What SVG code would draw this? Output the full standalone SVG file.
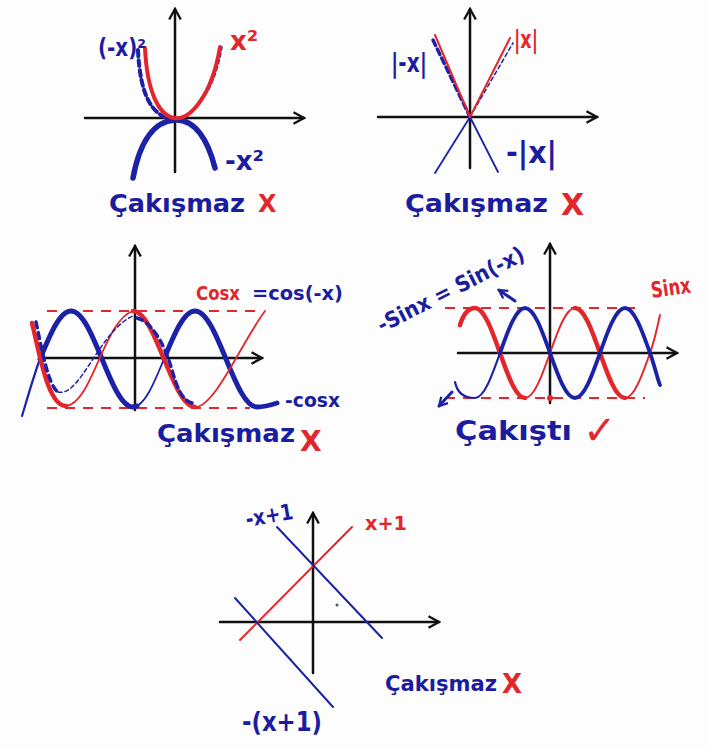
<svg xmlns="http://www.w3.org/2000/svg" width="710" height="749" viewBox="0 0 710 749">
<defs>
<style>
.ax{fill:none;stroke:#111;stroke-width:2.5;stroke-linecap:round;marker-end:url(#ah)}
.b{fill:none;stroke:#1c22a8;stroke-linecap:round;stroke-linejoin:round}
.r{fill:none;stroke:#e3262b;stroke-linecap:round;stroke-linejoin:round}
.rd{fill:none;stroke:#e3262b;stroke-width:2;stroke-dasharray:10 8}
.tb{font-family:"DejaVu Sans","Liberation Sans",sans-serif;font-weight:bold;fill:#1c1ca0}
.tr{font-family:"DejaVu Sans","Liberation Sans",sans-serif;font-weight:bold;fill:#e3262b}
</style>
<marker id="ah" viewBox="0 0 12 12" refX="10" refY="6" markerWidth="14" markerHeight="14" markerUnits="userSpaceOnUse" orient="auto">
<path d="M1,1 L10,6 L1,11" fill="none" stroke="#111" stroke-width="2"/>
</marker>
<marker id="bh" viewBox="0 0 12 12" refX="10" refY="6" markerWidth="11" markerHeight="11" markerUnits="userSpaceOnUse" orient="auto">
<path d="M1,1 L10,6 L1,11" fill="none" stroke="#1c22a8" stroke-width="2.5"/>
</marker>
</defs>
<rect width="710" height="749" fill="#fdfdfd"/>

<g id="panel-square">
<path class="ax" d="M175,172 L175,9"/>
<path class="ax" d="M85,118 L304,118"/>
<path class="b" stroke-width="5.5" d="M133,178 C140,140 155,121 175,120 C195,119 208,140 215,168"/>
<path class="b" stroke-width="4" stroke-dasharray="6 4" d="M138,50 C140,95 152,116 172,119"/>
<path class="b" stroke-width="1.5" stroke-dasharray="4 3" d="M172,119 C192,119 214,95 222,47"/>
<path class="r" stroke-width="4" d="M145,48 C147,90 158,115 174,118 C190,121 212,95 220,47"/>
<text class="tb" x="98" y="56" font-size="24" textLength="48" lengthAdjust="spacingAndGlyphs">(-x)²</text>
<text class="tr" x="230" y="50" font-size="26">x²</text>
<text class="tb" x="225" y="170" font-size="26">-x²</text>
<text class="tb" x="109" y="212" font-size="24" textLength="136" lengthAdjust="spacingAndGlyphs">Çakışmaz</text>
<text class="tr" x="258" y="212" font-size="24" font-weight="normal">X</text>
</g>

<g id="panel-abs">
<path class="ax" d="M470,168 L470,9"/>
<path class="ax" d="M378,117 L597,117"/>
<path class="b" stroke-width="1.8" d="M435,173 L470,117 L498,172"/>
<path class="b" stroke-width="3.5" stroke-dasharray="6 4" d="M433,40 L470,117"/>
<path class="b" stroke-width="1.5" stroke-dasharray="4 3" d="M470,117 L513,43"/>
<path class="r" stroke-width="2" d="M435,35 L470,117 L510,38"/>
<text class="tb" x="391" y="72" font-size="26" textLength="36" lengthAdjust="spacingAndGlyphs">|-x|</text>
<text class="tr" x="514" y="48" font-size="24" textLength="24" lengthAdjust="spacingAndGlyphs">|x|</text>
<text class="tb" x="506" y="163" font-size="30" textLength="51" lengthAdjust="spacingAndGlyphs">-|x|</text>
<text class="tb" x="405" y="212" font-size="24" textLength="143" lengthAdjust="spacingAndGlyphs">Çakışmaz</text>
<text class="tr" x="561" y="215" font-size="30" font-weight="normal">X</text>
</g>

<g id="panel-cos">
<path class="ax" d="M135,410 L135,246"/>
<path class="ax" d="M43,358 L262,358"/>
<path class="rd" d="M47,311 L263,311"/>
<path class="rd" d="M47,408 L250,408"/>
<path class="b" stroke-width="2.2" d="M22,416 C28,396 34,375 40,359"/>
<path class="b" stroke-width="5" d="M40,359 c10.1,-24.6 19.8,-48 31,-48 c11.2,0 20.9,23.4 31,48 c10.1,24.6 19.8,48 31,48 l4,-1"/>
<path class="b" stroke-width="1.8" d="M133,407 c11.2,0 20.9,-23.4 31,-48"/>
<path class="b" stroke-width="5" d="M164,359 c10.1,-24.6 19.8,-48 31,-48 c11.2,0 20.9,23.4 31,48 c10.1,24.6 19.8,48 31,48 c8,0 14,-2 20,-4"/>
<path class="r" stroke-width="4.5" d="M32,323 C40,355 48,406 66,406"/>
<path class="r" stroke-width="1.8" d="M66,406 C92,404 104,320 133,311"/>
<path class="r" stroke-width="4.5" d="M133,311 c11.2,0 20.9,23.4 31,48 c10.1,24.6 19.8,48 31,48"/>
<path class="r" stroke-width="1.8" d="M195,407 C215,407 240,345 265,311"/>
<path class="b" stroke-width="3.5" stroke-dasharray="6 5" d="M36,322 C42,350 48,385 58,392"/>
<path class="b" stroke-width="1.5" stroke-dasharray="4 3" d="M58,392 C80,398 100,330 133,316"/>
<path class="b" stroke-width="3.5" stroke-dasharray="6 5" d="M137,318 C152,322 165,345 172,370 C177,388 182,400 192,403"/>
<text class="tr" x="196" y="300" font-size="20" textLength="44" lengthAdjust="spacingAndGlyphs">Cosx</text>
<text class="tb" x="252" y="300" font-size="20" textLength="91" lengthAdjust="spacingAndGlyphs">=cos(-x)</text>
<text class="tb" x="285" y="407" font-size="20" textLength="55" lengthAdjust="spacingAndGlyphs">-cosx</text>
<text class="tb" x="157" y="442" font-size="24" textLength="138" lengthAdjust="spacingAndGlyphs">Çakışmaz</text>
<text class="tr" x="300" y="451" font-size="28" font-weight="normal">X</text>
</g>

<g id="panel-sin">
<path class="ax" d="M550,403 L550,244"/>
<path class="ax" d="M458,353 L677,353"/>
<path class="rd" d="M445,308 L640,308"/>
<path class="rd" d="M445,398 L645,398"/>
<circle cx="550" cy="398" r="3" fill="#e3262b"/>
<path class="r" stroke-width="4.5" d="M460,325 C464,312 469,308 475,308 c9.05,0 16.85,22 25,45 c8.15,23 16,45 25,45"/>
<path class="r" stroke-width="2" d="M525,398 c9.05,0 16.85,-22 25,-45 c8.15,-23 16,-45 25,-45"/>
<path class="r" stroke-width="4.5" d="M575,308 c9.05,0 16.85,22 25,45 c8.15,23 16,45 25,45"/>
<path class="r" stroke-width="2" d="M625,398 c9.05,0 16.85,-22 25,-45 c6,-17 8,-30 10,-38"/>
<path class="b" stroke-width="2.2" d="M455,382 C457,392 463,398 475,398 c9.05,0 16.85,-22 25,-45"/>
<path class="b" stroke-width="3.8" d="M500,353 c8.15,-23 16,-45 25,-45 c9.05,0 16.85,22 25,45 c8.15,23 16,45 25,45 c9.05,0 16.85,-22 25,-45 c8.15,-23 16,-45 25,-45 c9.05,0 16.85,22 25,45 c5,14 8,28 10,32"/>
<path class="b" stroke-width="3" marker-end="url(#bh)" d="M515,301 L499,290"/>
<path class="b" stroke-width="3" marker-end="url(#bh)" d="M452,392 L439,406"/>
<text class="tb" x="382" y="333" font-size="22" textLength="162" lengthAdjust="spacingAndGlyphs" transform="rotate(-27 382 333)">-Sinx = Sin(-x)</text>
<text class="tr" x="652" y="298" font-size="22" textLength="40" lengthAdjust="spacingAndGlyphs" transform="rotate(-8 652 298)">Sinx</text>
<text class="tb" x="455" y="440" font-size="26" textLength="117" lengthAdjust="spacingAndGlyphs">Çakıştı</text>
<text class="tr" x="583" y="444" font-size="40" font-weight="normal">✓</text>
</g>

<g id="panel-line">
<path class="ax" d="M313,673 L313,513"/>
<path class="ax" d="M220,622 L439,622"/>
<path class="r" stroke-width="2" d="M240,640 L352,527"/>
<path class="b" stroke-width="2" d="M277,527 L382,638"/>
<path class="b" stroke-width="2" d="M235,598 L333,707"/>
<circle cx="337" cy="605" r="1.5" fill="#556"/>
<text class="tb" x="247" y="527" font-size="22" textLength="48" lengthAdjust="spacingAndGlyphs" transform="rotate(-10 247 527)">-x+1</text>
<text class="tr" x="365" y="530" font-size="20" textLength="42" lengthAdjust="spacingAndGlyphs">x+1</text>
<text class="tb" x="242" y="731" font-size="26" textLength="80" lengthAdjust="spacingAndGlyphs">-(x+1)</text>
<text class="tb" x="385" y="691" font-size="22" textLength="112" lengthAdjust="spacingAndGlyphs">Çakışmaz</text>
<text class="tr" x="502" y="693" font-size="26" font-weight="normal">X</text>
</g>
</svg>
